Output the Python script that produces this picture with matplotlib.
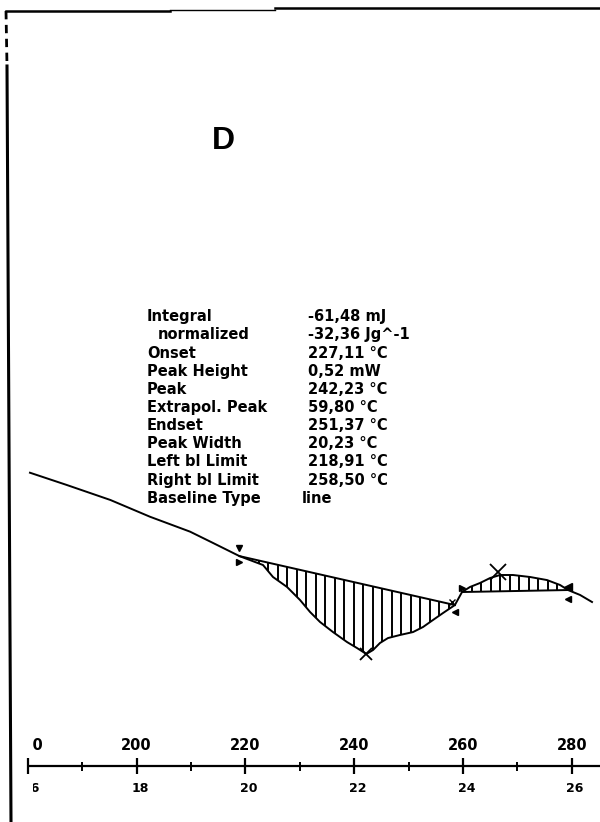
import numpy as np
import matplotlib
matplotlib.use("Agg")
import matplotlib.pyplot as plt
from matplotlib.transforms import Bbox, TransformedBbox

# DSC trace: sample temperature (degC) vs heat flow (mW)
temp_c = [180.40, 187.15, 195.18, 202.46, 209.82, 214.04, 218.91, 223.24, 225.07,
          227.65, 230.04, 231.88, 233.71, 236.10, 238.68, 240.51, 242.23, 243.46,
          244.74, 246.21, 248.42, 250.81, 252.65, 254.49, 256.32, 258.50, 259.82,
          261.29, 263.13, 264.96, 266.80, 269.19, 272.32, 275.44, 277.83, 279.30,
          281.51, 283.71]
heat_mw = [0.957, 0.865, 0.752, 0.626, 0.514, 0.429, 0.330, 0.263, 0.173,
           0.098, 0.000, -0.090, -0.165, -0.241, -0.316, -0.361, -0.406, -0.376,
           -0.323, -0.286, -0.263, -0.241, -0.203, -0.150, -0.098, -0.038, 0.060,
           0.098, 0.128, 0.165, 0.188, 0.188, 0.173, 0.150, 0.113, 0.075,
           0.038, -0.015]

# integration limits and baselines of the two evaluated peaks
peak1_limits = [218.91, 258.50]
peak1_base = [0.330, -0.038]
peak1_temp = 242.23
peak2_limits = [259.82, 279.30]
peak2_base = [0.060, 0.075]
peak2_temp, peak2_mw = 266.40, 0.210

labels = ["Integral", "normalized", "Onset", "Peak Height", "Peak", "Extrapol. Peak",
          "Endset", "Peak Width", "Left bl Limit", "Right bl Limit", "Baseline Type"]
values = ["-61,48 mJ", "-32,36 Jg^-1", "227,11 °C", "0,52 mW", "242,23 °C",
          "59,80 °C", "251,37 °C", "20,23 °C", "218,91 °C", "258,50 °C", "line"]

temp_ticks = [180, 200, 220, 240, 260, 280]
minor_ticks = [190, 210, 230, 250, 270]
time_ticks = [16, 18, 20, 22, 24, 26]

W, H = 600, 822
fig = plt.figure(figsize=(W / 100, H / 100), dpi=100)
ax = fig.add_axes([0, 0, 1, 1])
ax.set_xlim(174.89, 285.18)
ax.set_ylim(-1.669, 4.511)
ax.axis("off")


def fpos(x, y):
    return x / W, 1 - y / H


lw = 1.4
ax.plot(temp_c, heat_mw, color="black", lw=lw)

# hatched peak areas
for lim, base in [(peak1_limits, peak1_base), (peak2_limits, peak2_base)]:
    ax.plot(lim, base, color="black", lw=lw)
    xs = np.arange(lim[0] + 1.75, lim[1], 1.75)
    yb = np.interp(xs, lim, base)
    yc = np.interp(xs, temp_c, heat_mw)
    ax.vlines(xs, yb, yc, color="black", lw=lw)

# baseline limit markers
ax.plot(peak1_limits[0], peak1_base[0] + 0.06, marker="v", ms=5, color="black")
ax.plot(peak1_limits[0], peak1_base[0] - 0.045, marker=">", ms=5, color="black")
ax.plot(peak1_limits[1], peak1_base[1] - 0.05, marker="<", ms=4, color="black")
ax.plot(peak1_limits[1] - 0.6, peak1_base[1] + 0.02, marker="x", ms=4, color="black")
ax.plot(peak2_limits[0], peak2_base[0] + 0.03, marker=">", ms=5, color="black")
ax.plot(peak2_limits[1], peak2_base[1] + 0.02, marker="<", ms=6, color="black")
ax.plot(peak2_limits[1], peak2_base[1] - 0.07, marker="<", ms=4, color="black")

# peak markers
ax.plot(peak1_temp, np.interp(peak1_temp, temp_c, heat_mw), marker="x", ms=9,
        mew=1.3, color="black")
ax.plot(peak2_temp, peak2_mw, marker="x", ms=12, mew=1.3, color="black")

# evaluation results
for i, (lab, val) in enumerate(zip(labels, values)):
    y = 316.7 + 18.15 * i
    x = 158 if lab == "normalized" else 147
    fig.text(*fpos(x, y), lab, fontsize=10.5, fontweight="bold", va="center",
             ha="left", family="DejaVu Sans")
    vx = 302 if val == "line" else 308
    fig.text(*fpos(vx, y), val, fontsize=10.5, fontweight="bold", va="center",
             ha="left", family="DejaVu Sans")

fig.text(*fpos(223, 141), "D", fontsize=23, fontweight="bold", ha="center",
         va="center", family="Liberation Sans")

# temperature / time scale
tr = ax.get_xaxis_transform()
ry = 1 - 766 / H
ax.plot([180.4, 285.18], [ry, ry], color="black", lw=1.6, transform=tr)
ax.vlines(temp_ticks, ry - 8 / H, ry + 8 / H, color="black", lw=1.6, transform=tr)
ax.vlines(minor_ticks, ry - 4.5 / H, ry + 4.5 / H, color="black", lw=1.4, transform=tr)
clip = TransformedBbox(Bbox([[181.0, 0], [290, 1]]), tr)
for t in temp_ticks:
    txt = ax.text(t, 1 - 745 / H, str(t), transform=tr, ha="center", va="center",
                  fontsize=10.5, fontweight="bold", family="DejaVu Sans")
    txt.set_clip_box(clip)
    txt.set_clip_on(True)
for m in time_ticks:
    txt = ax.text(20 + 10 * m + 0.6, 1 - 788 / H, str(m), transform=tr, ha="center",
                  va="center", fontsize=9, fontweight="bold", family="DejaVu Sans")
    txt.set_clip_box(clip)
    txt.set_clip_on(True)

# frame of the sheet
fig.add_artist(plt.Line2D([6 / W, 170 / W], [1 - 11.5 / H] * 2, color="black", lw=1.8))
fig.add_artist(plt.Line2D([170 / W, 275 / W], [1 - 10 / H] * 2, color="black", lw=1.0))
fig.add_artist(plt.Line2D([275 / W, 1], [1 - 8.5 / H] * 2, color="black", lw=1.8))
fig.add_artist(plt.Line2D([6 / W, 7 / W], [1 - 11 / H, 1 - 66 / H], color="black",
                          lw=2, ls=(0, (3, 2))))
fig.add_artist(plt.Line2D([7 / W, 11 / W], [1 - 66 / H, 0], color="black", lw=2.2))

fig.savefig("out.png", dpi=100, facecolor="white")
